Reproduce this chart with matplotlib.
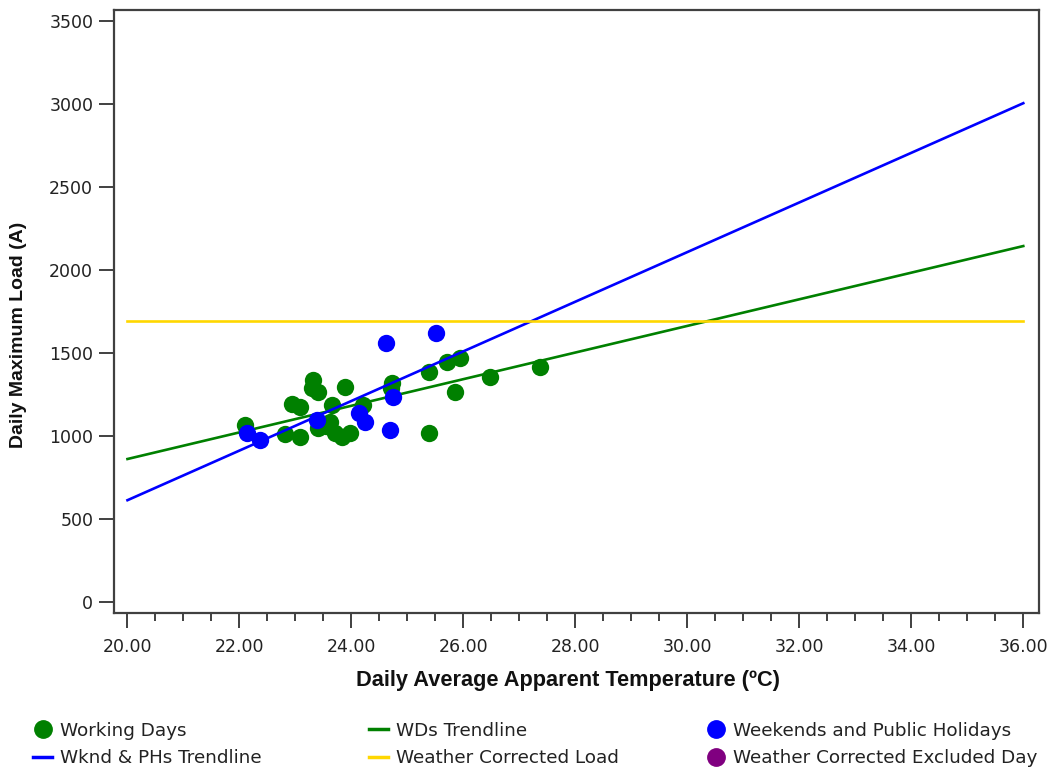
import matplotlib
matplotlib.use("Agg")
import matplotlib.pyplot as plt
from matplotlib.lines import Line2D
import numpy as np

# Working days: temperature (ºC) and daily maximum load (A)
wd_temp = [22.10, 22.81, 23.08, 22.94, 23.08, 23.32, 23.29, 23.41, 23.65, 23.89,
           23.62, 23.41, 23.71, 23.83, 23.98, 24.21, 24.72, 24.70, 25.38, 25.70,
           25.94, 25.85, 25.38, 26.48, 27.37, 23.55]
wd_load = [1067, 1013, 997, 1194, 1178, 1338, 1288, 1268, 1188, 1298,
           1087, 1048, 1018, 997, 1018, 1188, 1318, 1290, 1389, 1449,
           1469, 1268, 1018, 1358, 1419, 1060]

# Weekends and public holidays
we_temp = [22.13, 22.36, 23.38, 24.13, 24.24, 24.68, 24.74, 24.61, 25.51]
we_load = [1018, 977, 1098, 1138, 1088, 1038, 1234, 1559, 1623]

# Excluded days (none in this period)
excl_temp = []
excl_load = []

# Trendline end points (temperature range and fitted loads)
trend_temp = [20.0, 36.0]
wd_trend_load = [863, 2145]
we_trend_load = [615, 3005]
corrected_load = [1694, 1694]

x_ticks = np.arange(20, 36.01, 2)
y_ticks = np.arange(0, 3501, 500)

GREEN = "#008000"
BLUE = "#0000FF"
YELLOW = "#FFD700"
PURPLE = "#800080"
AX_GREY = "#404040"

fig = plt.figure(figsize=(10.55, 7.67), dpi=100)
ax = fig.add_axes([0.1081, 0.2008, 0.9848 - 0.1081, 0.9876 - 0.2008])

ax.scatter(wd_temp, wd_load, s=156, color=GREEN, linewidths=0, zorder=2)
ax.plot(trend_temp, wd_trend_load, color=GREEN, lw=1.9, zorder=3)
ax.scatter(we_temp, we_load, s=156, color=BLUE, linewidths=0, zorder=4)
ax.plot(trend_temp, we_trend_load, color=BLUE, lw=1.9, zorder=5)
ax.plot(trend_temp, corrected_load, color=YELLOW, lw=1.9, zorder=5)
ax.scatter(excl_temp, excl_load, s=156, color=PURPLE, linewidths=0, zorder=6)

ax.set_xlim(19.76, 36.28)
ax.set_ylim(-64, 3569)
ax.set_xticks(x_ticks)
ax.set_xticklabels([f"{v:.2f}" for v in x_ticks])
ax.set_xticks(np.arange(20, 36.01, 0.5), minor=True)
ax.set_yticks(y_ticks)
ax.set_yticklabels([f"{int(v)}" for v in y_ticks])

for side in ax.spines.values():
    side.set_color(AX_GREY)
    side.set_linewidth(1.6)

ax.tick_params(axis="both", which="major", direction="out", length=11,
               width=1.4, color=AX_GREY, labelsize=12.5, labelcolor="#222222", pad=4)
ax.tick_params(axis="x", which="major", pad=7)
ax.tick_params(axis="x", which="minor", direction="out", length=6,
               width=1.4, color=AX_GREY)

label_font = dict(family=["Liberation Sans", "DejaVu Sans"],
                  weight="bold", color="#111111")
fig.text(0.538, 0.113, "Daily Average Apparent Temperature (ºC)",
         ha="center", va="center", size=15.7, **label_font)
fig.text(0.018, 0.563, "Daily Maximum Load (A)", rotation=90,
         ha="center", va="center", size=14, **label_font)

# Legend: three fixed columns of two entries each
h_wd = Line2D([], [], marker="o", ls="none", color=GREEN, markersize=12.5)
h_wdt = Line2D([], [], color=GREEN, lw=2.5)
h_we = Line2D([], [], marker="o", ls="none", color=BLUE, markersize=12.5)
h_wet = Line2D([], [], color=BLUE, lw=2.5)
h_cl = Line2D([], [], color=YELLOW, lw=2.5)
h_ex = Line2D([], [], marker="o", ls="none", color=PURPLE, markersize=12.5)

columns = [
    ([h_wd, h_wet], ["Working Days", "Wknd & PHs Trendline"], 33),
    ([h_wdt, h_cl], ["WDs Trendline", "Weather Corrected Load"], 369),
    ([h_we, h_ex], ["Weekends and Public Holidays", "Weather Corrected Excluded Day"], 706),
]
W, H = 1055, 767
for hs, ls, x_px in columns:
    leg = fig.legend(hs, ls, loc="center left",
                     bbox_to_anchor=(x_px / W, (H - 744.5) / H),
                     frameon=False, borderpad=0, borderaxespad=0,
                     prop=dict(family="DejaVu Sans", size=13.2),
                     handlelength=1.05, handletextpad=0.4,
                     labelspacing=0.52, labelcolor="#222222")

fig.savefig("out.png", dpi=100, facecolor="white")
